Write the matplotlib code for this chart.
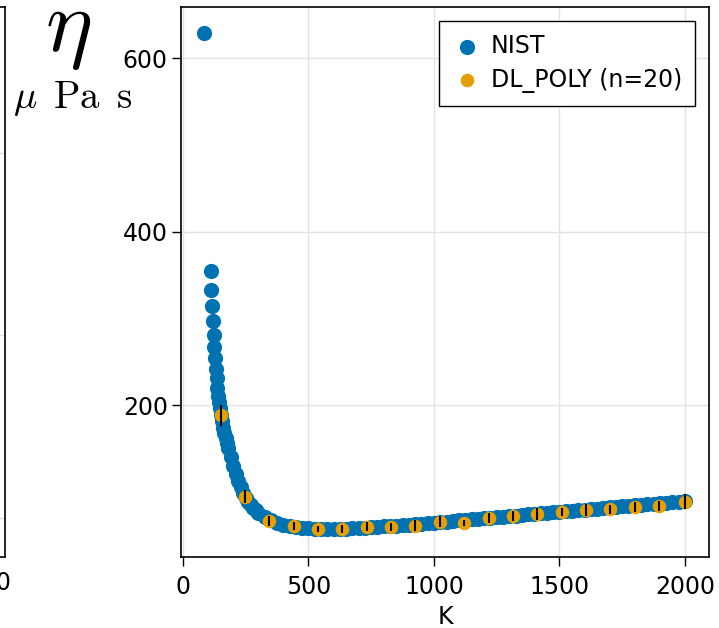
import numpy as np
import matplotlib
matplotlib.use('Agg')
import matplotlib.pyplot as plt

plt.rcParams['font.family'] = ['DejaVu Sans']
plt.rcParams['mathtext.fontset'] = 'cm'

# --- data ---
# NIST reference viscosity (K, micro Pa s)
nist_T = [85, 110, 113, 116, 119, 122, 125, 128, 131, 134, 137, 140, 143, 146,
          150, 155, 160, 165, 170, 175, 180, 190, 200, 210, 220, 230, 240, 250,
          260, 270, 280, 290, 300, 325, 350, 375, 400, 425, 450, 475, 500, 525,
          550, 575, 600, 625, 650, 675, 700, 725, 750, 775, 800, 825, 850, 875,
          900, 925, 950, 975, 1000, 1025, 1050, 1075, 1100, 1125, 1150, 1175,
          1200, 1225, 1250, 1275, 1300, 1325, 1350, 1375, 1400, 1425, 1450,
          1475, 1500, 1525, 1550, 1575, 1600, 1625, 1650, 1675, 1700, 1725,
          1750, 1775, 1800, 1825, 1850, 1875, 1900, 1925, 1950, 1975, 2000]
nist_eta = [629, 354, 333, 314, 297, 281, 267, 254, 242, 231, 220, 210, 203, 196,
            189, 181, 174, 168, 162, 156, 151, 140, 130, 121, 112, 105, 98.5, 93,
            88.5, 84.5, 81, 78.5, 76, 71, 67, 64, 61.8, 60.3, 59.3, 58.6, 58.0, 57.6,
            57.4, 57.3, 57.3, 57.4, 57.6, 57.9, 58.2, 58.6, 59.0, 59.5, 60.0, 60.5,
            61.0, 61.6, 62.1, 62.7, 63.3, 63.9, 64.5, 65.1, 65.7, 66.3, 66.9, 67.5,
            68.2, 68.8, 69.4, 70.0, 70.6, 71.3, 71.9, 72.5, 73.1, 73.8, 74.4, 75.0,
            75.6, 76.3, 76.9, 77.5, 78.1, 78.7, 79.4, 80.0, 80.6, 81.2, 81.9, 82.5,
            83.1, 83.7, 84.4, 85.0, 85.6, 86.2, 86.9, 87.5, 88.1, 88.7, 89.4]

# DL_POLY simulation results (n=20)
dl_T = [150, 247, 344, 441, 538, 635, 732, 829, 926, 1023,
        1121, 1218, 1315, 1412, 1509, 1606, 1703, 1800, 1897, 2000]
dl_eta = [188, 94.3, 66.6, 60.5, 57.4, 57.0, 59.7, 59.0, 60.9, 65.5,
          64.3, 69.4, 72.0, 74.4, 76.3, 79.0, 79.7, 82.8, 83.6, 88.6]
dl_err = [12.5, 7.7, 5.6, 4.6, 3.5, 4.2, 5.0, 4.8, 6.0, 6.1,
          3.5, 5.8, 5.8, 7.1, 4.8, 6.7, 5.0, 5.8, 6.3, 8.3]

x_ticks = [0, 500, 1000, 1500, 2000]
y_ticks = [200, 400, 600]

BLUE = '#0072B2'
ORANGE = '#E69F00'
GRID = '#e3e3e3'
W, H = 719, 628
FS = 17

fig = plt.figure(figsize=(W / 100, H / 100), dpi=100)
fig.patch.set_facecolor('white')

# main axes frame in pixel terms
left, right, top, bottom = 181, 709, 7, 557
ax = fig.add_axes([left / W, (H - bottom) / H, (right - left) / W, (bottom - top) / H])

# neighbouring panel (mostly cropped off on the left)
ax0 = fig.add_axes([-0.25, (H - bottom) / H, 0.25 + 5 / W, (bottom - top) / H])
ax0.set_xlim(0, 1)
ax0.set_ylim(0.786, 3.80)
ax0.set_yticks([1, 2, 3])
ax0.set_xticks([])
ax0.tick_params(left=False, labelleft=False)
ax0.grid(True, axis='y', color=GRID, linewidth=1)
for s in ax0.spines.values():
    s.set_linewidth(1.2)
fig.text(10.5 / W, 1 - 583 / H, '0', ha='right', va='center', fontsize=FS)

ax.scatter(nist_T, nist_eta, s=120, color=BLUE, linewidths=0, label='NIST', zorder=2)
ax.scatter(dl_T, dl_eta, s=95, color=ORANGE, linewidths=0, label='DL_POLY (n=20)', zorder=3)
ax.errorbar(dl_T, dl_eta, yerr=dl_err, fmt='none', ecolor='black', elinewidth=1.5,
            capsize=0, zorder=4)

ax.set_xlim(-8, 2096)
ax.set_ylim(24.8, 658.8)
ax.set_xticks(x_ticks)
ax.set_yticks(y_ticks)
ax.grid(True, color=GRID, linewidth=1)
ax.set_axisbelow(True)
ax.tick_params(direction='out', length=6.5, width=1, labelsize=FS, pad=3)
ax.tick_params(axis='x', pad=6.5)
for s in ax.spines.values():
    s.set_linewidth(1.2)
ax.set_xlabel('K', fontsize=FS, labelpad=4)

fig.text(68 / W, 1 - 28 / H, r'$\eta$', fontsize=64, ha='center', va='center')
fig.text(13 / W, 1 - 108 / H, r'$\mu\ \,\mathrm{Pa}\ \,\mathrm{s}$', fontsize=28,
         ha='left', va='baseline')

leg = ax.legend(loc='upper right', fontsize=FS, frameon=True, fancybox=False,
                framealpha=1, edgecolor='black', borderaxespad=0.6,
                handletextpad=0.35, labelspacing=0.4, handlelength=1.3,
                borderpad=0.55)
leg.get_frame().set_linewidth(1)

fig.savefig('out.png', dpi=100)
